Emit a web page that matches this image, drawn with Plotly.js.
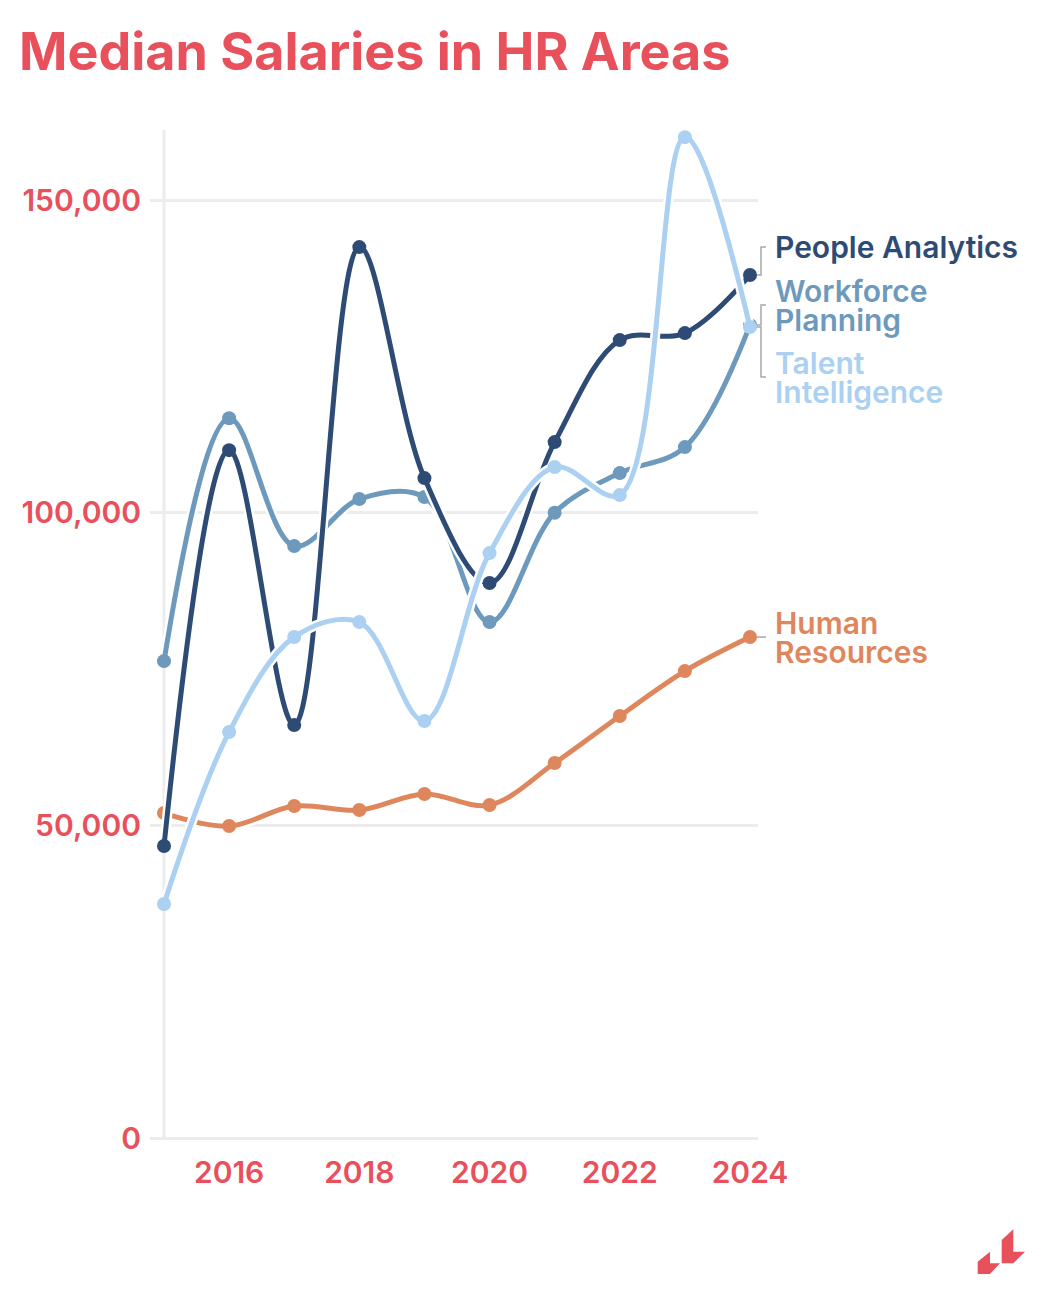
<!DOCTYPE html>
<html>
<head>
<meta charset="utf-8">
<script src="https://cdn.plot.ly/plotly-3.0.1.min.js"></script>
<style>
  html, body { margin: 0; padding: 0; background: #ffffff; }
  #chart { width: 1044px; height: 1302px; }
  #logo { position: absolute; left: 0; top: 0; pointer-events: none; }
</style>
</head>
<body>
<div id="chart"></div>
<svg id="logo" width="1044" height="1302">
  <polygon points="977.7,1261.7 990,1251.7 990,1263.3 1000,1263.3 990,1274 977.7,1274" fill="#e8505b"/>
  <polygon points="1001.7,1240 1013.3,1229.3 1013.3,1251.7 1025,1251.7 1013.3,1263.3 1001.7,1263.3" fill="#e8505b"/>
</svg>
<script>
// ---- data ----
const years = [2015, 2016, 2017, 2018, 2019, 2020, 2021, 2022, 2023, 2024];
const humanResources      = [51970, 49890, 53090, 52450, 55010, 53250, 59960, 67480, 74670, 80110];
const workforcePlanning   = [76270, 115100, 94660, 102180, 102500, 82510, 100000, 106330, 110490, 130000];
const peopleAnalytics     = [46700, 110000, 66040, 142470, 105530, 88750, 111290, 127600, 128720, 138000];
const talentIntelligence  = [37420, 64920, 80110, 82510, 66680, 93540, 107290, 102820, 160060, 129680];
const xTickVals = [2016, 2018, 2020, 2022, 2024];
const yTickVals = [0, 50000, 100000, 150000];

const seriesNames = ["Human Resources", "Workforce Planning", "People Analytics", "Talent Intelligence"];
const seriesLabelLines = [["Human", "Resources"], ["Workforce", "Planning"], ["People Analytics"], ["Talent", "Intelligence"]];
const seriesValues = [humanResources, workforcePlanning, peopleAnalytics, talentIntelligence];

// ---- styles ----
const colors = ["#df875c", "#6d99bd", "#2e4b75", "#abd0f1"];
const labelShift = [0, 20, 28, -50]; // px vertical offset of label block centre from last point
const lineGap = 29;
const accent = "#e8505b";
const gridColor = "#ececec";
const fontFamily = "Inter, 'Noto Sans', sans-serif";
const xRange = [2014.785, 2024.123];

const traces = [];
seriesValues.forEach((vals, i) => {
  traces.push({
    x: years, y: vals, type: "scatter", mode: "lines",
    line: { color: "#ffffff", width: 10, shape: "spline", smoothing: 1 },
    hoverinfo: "skip", showlegend: false
  });
  traces.push({
    x: years, y: vals, type: "scatter", mode: "lines+markers", name: seriesNames[i],
    line: { color: colors[i], width: 5, shape: "spline", smoothing: 1 },
    marker: { color: colors[i], size: 14 },
    showlegend: false, cliponaxis: false
  });
});

const lastX = years[years.length - 1];
const lastPaperX = (lastX - xRange[0]) / (xRange[1] - xRange[0]);
const annotations = [];
seriesValues.forEach((vals, i) => {
  const lines = seriesLabelLines[i];
  lines.forEach((txt, k) => {
    const off = labelShift[i] + ((lines.length - 1) / 2 - k) * lineGap;
    annotations.push({
      x: lastX, y: vals[vals.length - 1], xref: "x", yref: "y",
      text: txt, showarrow: false,
      xanchor: "left", yanchor: "middle", align: "left",
      xshift: 23, yshift: off,
      font: { family: fontFamily, size: 30, color: colors[i], weight: 600 }
    });
  });
});

const shapes = [{
  type: "line", xref: "x", yref: "paper", x0: years[0], x1: years[0], y0: 0, y1: 1,
  line: { color: gridColor, width: 3 }, layer: "below"
}];
seriesValues.forEach((vals, i) => {
  const s = labelShift[i];
  const path = s === 0
    ? "M 7 0 L 16 0"
    : `M 7 0 L 11 0 L 11 ${s} L 16 ${s}`;
  shapes.push({
    type: "path", xref: "paper", yref: "y",
    xsizemode: "pixel", ysizemode: "pixel",
    xanchor: lastPaperX, yanchor: vals[vals.length - 1],
    path: path, line: { color: "#a8a8a8", width: 1.5 }
  });
});

const layout = {
  width: 1044, height: 1302,
  margin: { l: 150, r: 286, t: 130, b: 164 },
  paper_bgcolor: "#ffffff", plot_bgcolor: "#ffffff",
  title: {
    text: "Median Salaries in HR Areas",
    x: 19 / 1044, xref: "container", xanchor: "left",
    y: 1 - 52 / 1302, yref: "container", yanchor: "middle",
    font: { family: fontFamily, size: 52, color: accent, weight: 700 }
  },
  xaxis: {
    range: xRange,
    tickvals: xTickVals, ticktext: xTickVals.map(String),
    showgrid: false, zeroline: false, showline: false, ticks: "",
    ticklabelstandoff: 14,
    tickfont: { family: fontFamily, size: 30, color: accent, weight: 600 },
    fixedrange: true
  },
  yaxis: {
    range: [0, 161200],
    tickvals: yTickVals, tickformat: ",",
    showgrid: true, gridcolor: gridColor, gridwidth: 3,
    zeroline: true, zerolinecolor: gridColor, zerolinewidth: 3,
    showline: false, ticks: "",
    ticklabelstandoff: 8,
    tickfont: { family: fontFamily, size: 30, color: accent, weight: 600 },
    fixedrange: true
  },
  annotations: annotations,
  shapes: shapes,
  showlegend: false
};

Plotly.newPlot("chart", traces, layout, { displayModeBar: false, staticPlot: true });
</script>
</body>
</html>
